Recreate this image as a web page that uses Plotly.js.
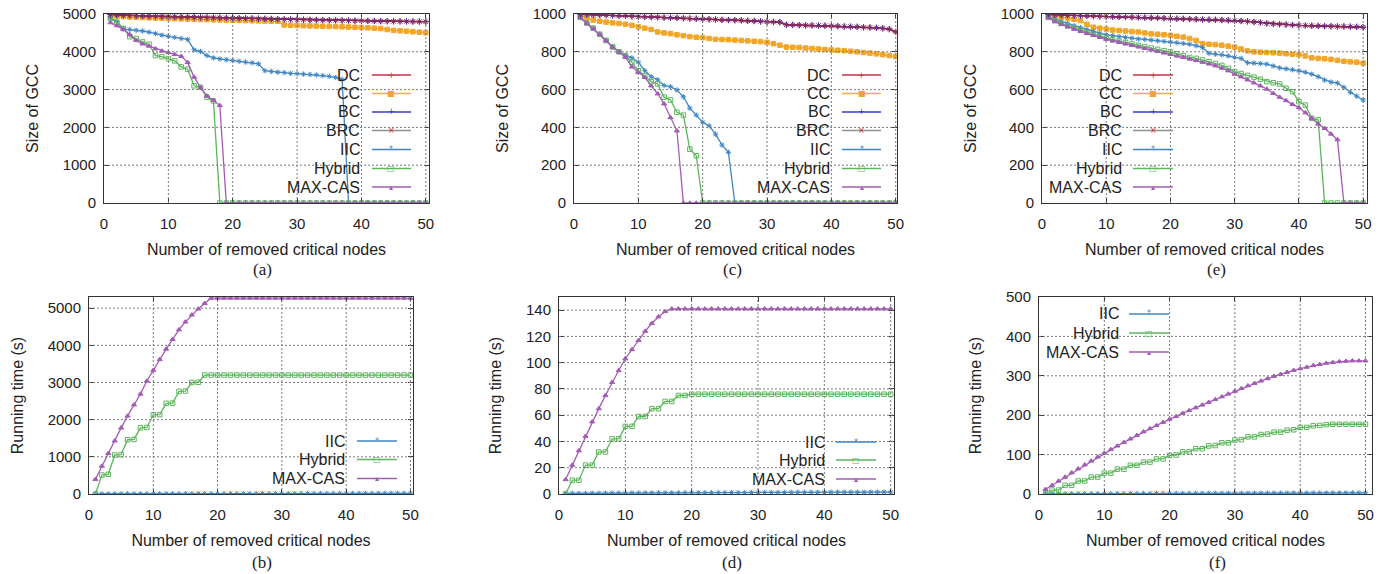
<!DOCTYPE html>
<html><head><meta charset="utf-8">
<script src="https://cdn.plot.ly/plotly-3.0.1.min.js"></script>
<style>html,body{margin:0;padding:0;background:#fff}#chart{width:1394px;height:574px}</style>
</head><body><div id="chart"></div>
<script>
// ---------------- DATA ----------------
const nodes = [1,2,3,4,5,6,7,8,9,10,11,12,13,14,15,16,17,18,19,20,21,22,23,24,25,26,27,28,29,30,31,32,33,34,35,36,37,38,39,40,41,42,43,44,45,46,47,48,49,50];

// (a) Size of GCC
const a_DC  = [4988,4978,4970,4963,4957,4951,4946,4941,4937,4933,4929,4925,4921,4917,4913,4909,4905,4901,4897,4893,4889,4885,4881,4877,4872,4868,4864,4860,4856,4852,4848,4845,4842,4839,4836,4833,4830,4827,4824,4821,4818,4815,4812,4810,4808,4806,4804,4802,4800,4798];
const a_CC  = [4950,4940,4930,4920,4912,4905,4898,4892,4886,4880,4875,4870,4865,4860,4855,4850,4846,4842,4838,4834,4830,4826,4822,4818,4814,4810,4806,4710,4700,4695,4690,4685,4680,4675,4670,4665,4660,4655,4650,4645,4635,4625,4615,4590,4565,4555,4545,4530,4520,4505];
const a_BC  = [4988,4978,4970,4963,4957,4951,4946,4941,4937,4933,4929,4925,4921,4917,4913,4909,4905,4901,4897,4893,4889,4885,4881,4877,4872,4868,4864,4860,4856,4852,4848,4845,4842,4839,4836,4833,4830,4827,4824,4821,4818,4815,4812,4810,4808,4806,4804,4802,4800,4798];
const a_BRC = [4985,4975,4968,4962,4956,4950,4945,4940,4936,4932,4928,4924,4920,4915,4911,4907,4903,4899,4895,4891,4887,4883,4879,4875,4870,4866,4862,4858,4854,4850,4846,4843,4840,4837,4834,4831,4828,4825,4822,4819,4816,4813,4810,4808,4806,4804,4802,4800,4798,4796];
const a_IIC = [4890,4800,4600,4590,4570,4550,4520,4480,4440,4410,4380,4350,4330,4050,4010,3900,3840,3810,3790,3770,3750,3730,3710,3680,3500,3480,3460,3450,3430,3420,3410,3400,3390,3370,3350,3320,3270,0,0,0,0,0,0,0,0,0,0,0,0,0];
const a_Hybrid = [4880,4780,4620,4400,4350,4260,4200,3900,3870,3820,3760,3600,3540,3100,3060,2800,2700,0,0,0,0,0,0,0,0,0,0,0,0,0,0,0,0,0,0,0,0,0,0,0,0,0,0,0,0,0,0,0,0,0];
const a_MAXCAS = [4770,4690,4600,4460,4300,4210,4150,4080,4020,3980,3930,3880,3720,3330,3060,2830,2720,2580,0,0,0,0,0,0,0,0,0,0,0,0,0,0,0,0,0,0,0,0,0,0,0,0,0,0,0,0,0,0,0,0];

// (c) Size of GCC
const c_DC  = [998,997,996,995,994,993,991,990,988,986,985,984,983,981,980,979,978,976,975,973,972,971,969,968,967,966,964,963,961,959,958,957,943,942,941,940,940,939,938,937,936,934,933,932,930,929,927,924,920,905];
const c_CC  = [990,978,968,962,957,953,950,946,940,932,925,918,905,900,896,890,885,880,877,875,870,866,865,864,862,860,858,856,854,850,843,835,825,824,823,820,817,815,812,810,808,806,803,800,796,793,789,785,780,775];
const c_BC  = [998,997,996,995,994,993,991,990,988,986,985,984,983,981,980,979,978,976,975,973,972,971,969,968,967,966,964,963,961,959,958,957,943,942,941,940,940,939,938,937,936,934,933,932,930,929,927,924,920,905];
const c_BRC = [998,997,996,995,994,993,991,990,988,986,985,984,983,981,980,979,978,976,975,973,972,971,969,968,967,966,964,963,961,959,958,957,943,942,941,940,940,939,938,937,936,934,933,932,930,929,927,924,920,905];
const c_IIC = [982,952,925,893,860,826,800,782,768,745,700,668,652,622,615,598,562,502,465,427,408,364,307,268,0,0,0,0,0,0,0,0,0,0,0,0,0,0,0,0,0,0,0,0,0,0,0,0,0,0];
const c_Hybrid = [982,952,925,893,860,826,800,778,745,700,672,642,630,560,545,480,465,285,250,0,0,0,0,0,0,0,0,0,0,0,0,0,0,0,0,0,0,0,0,0,0,0,0,0,0,0,0,0,0,0];
const c_MAXCAS = [980,950,922,892,858,824,798,772,720,690,665,620,578,525,452,382,0,0,0,0,0,0,0,0,0,0,0,0,0,0,0,0,0,0,0,0,0,0,0,0,0,0,0,0,0,0,0,0,0,0];

// (e) Size of GCC
const e_DC  = [998,996,994,993,992,991,990,989,988,987,986,985,984,983,982,981,980,979,978,976,975,974,973,972,971,970,969,968,967,965,963,961,958,955,950,948,946,944,942,940,939,938,937,936,935,934,934,933,932,930];
const e_CC  = [995,990,983,977,972,965,945,930,925,920,915,913,910,907,905,900,895,893,890,887,882,878,870,860,843,840,838,835,830,825,815,805,800,798,796,795,793,790,787,785,778,768,765,763,760,755,750,747,745,740];
const e_BC  = [998,996,994,993,992,991,990,989,988,987,986,985,984,983,982,981,980,979,978,976,975,974,973,972,971,970,969,968,967,965,963,961,958,955,950,948,946,944,942,940,939,938,937,936,935,934,934,933,932,930];
const e_BRC = [998,996,994,993,992,991,990,989,988,987,986,985,984,983,982,981,980,979,978,976,975,974,973,972,971,970,969,968,967,965,963,961,958,955,950,948,946,944,942,940,939,938,937,936,935,934,934,933,932,930];
const e_IIC = [985,972,960,950,938,928,918,908,898,890,885,880,876,872,868,866,862,858,855,852,848,844,840,832,822,792,788,784,778,771,765,742,740,738,735,725,715,710,705,700,692,682,668,650,640,635,612,585,565,545];
const e_Hybrid = [982,965,950,938,927,915,903,893,882,872,864,856,849,841,834,827,820,813,806,799,790,780,770,765,757,748,738,728,712,695,685,675,666,655,642,636,630,607,589,536,518,448,440,0,0,0,0,0,0,0];
const e_MAXCAS = [980,960,945,932,920,908,897,887,877,867,858,850,842,834,826,818,810,802,794,786,778,770,762,754,745,736,726,714,700,682,668,652,636,620,603,580,560,542,522,505,478,448,418,395,365,335,0,0,0,0];

// (b) Running time (s)
const b_IIC = [3,3,4,4,4,5,5,5,6,6,6,7,7,7,8,8,8,9,9,9,10,10,10,11,11,11,12,12,12,13,13,13,14,14,14,15,15,15,16,16,16,17,17,17,18,18,18,19,19,19];
const b_Hybrid = [0,510,530,1050,1060,1460,1470,1780,1790,2130,2135,2440,2445,2760,2770,3000,3005,3200,3200,3200,3200,3200,3200,3200,3200,3200,3200,3200,3200,3200,3200,3200,3200,3200,3200,3200,3200,3200,3200,3200,3200,3200,3200,3200,3200,3200,3200,3200,3200,3200];
const b_MAXCAS = [395,750,1095,1430,1780,2100,2400,2690,3040,3330,3620,3900,4160,4420,4630,4820,4980,5130,5270,5270,5270,5270,5270,5270,5270,5270,5270,5270,5270,5270,5270,5270,5270,5270,5270,5270,5270,5270,5270,5270,5270,5270,5270,5270,5270,5270,5270,5270,5270,5270];

// (d) Running time (s)
const d_IIC = [0.4,0.5,0.5,0.5,0.6,0.6,0.6,0.7,0.7,0.7,0.8,0.8,0.8,0.8,0.9,0.9,0.9,0.9,1.0,1.0,1.0,1.0,1.0,1.1,1.1,1.1,1.1,1.1,1.2,1.2,1.2,1.2,1.2,1.2,1.3,1.3,1.3,1.3,1.3,1.3,1.4,1.4,1.4,1.4,1.4,1.4,1.5,1.5,1.5,1.5];
const d_Hybrid = [0,10.5,10.5,22,22,32,32,42,42,51.5,51.5,59,59,65,65,70.5,70.5,75,75,76,76,76,76,76,76,76,76,76,76,76,76,76,76,76,76,76,76,76,76,76,76,76,76,76,76,76,76,76,76,76];
const d_MAXCAS = [11,22,33,44,55,65,75,85,94,103,110,117,124,130,135,139,141,141,141,141,141,141,141,141,141,141,141,141,141,141,141,141,141,141,141,141,141,141,141,141,141,141,141,141,141,141,141,141,141,141];

// (f) Running time (s)
const f_IIC = [0.5,0.6,0.6,0.7,0.7,0.8,0.8,0.9,0.9,1.0,1.0,1.1,1.1,1.2,1.2,1.3,1.3,1.4,1.4,1.5,1.5,1.6,1.6,1.7,1.7,1.8,1.8,1.9,1.9,2.0,2.0,2.1,2.1,2.2,2.2,2.3,2.3,2.4,2.4,2.5,2.5,2.6,2.6,2.7,2.7,2.8,2.8,2.9,2.9,3.0];
const f_Hybrid = [0,10,10,22,22,33,33,43,43,53,53,63,63,73,73,81,81,89,89,98,99,107,107,115,115,122,123,130,130,137,138,145,145,151,152,157,157,162,163,169,169,173,174,176,177,177,177,177,177,177];
const f_MAXCAS = [12,22,33,43,54,64,74,84,94,104,113,122,131,140,149,158,166,174,182,190,197,205,212,219,226,233,240,247,254,261,268,275,281,287,293,299,304,309,314,318,322,326,329,332,334,336,337,338,338,338];

const legendNames = ["DC","CC","BC","BRC","IIC","Hybrid","MAX-CAS"];
const timeLegendNames = ["IIC","Hybrid","MAX-CAS"];
const xTitle = "Number of removed critical nodes";
const gccTitle = "Size of GCC";
const timeTitle = "Running time (s)";
const panelLabels = ["(a)","(c)","(e)","(b)","(d)","(f)"];

// ---------------- STYLE ----------------
const W = 1394, H = 574;
const sty = {
  "DC":      {c:'#c8304a', m:'cross-thin-open', lc:'#c8304a', g:'+',  gc:'#c8304a'},
  "CC":      {c:'#f2a629', m:'square',          lc:'#f2b230', g:'■', gc:'#f2a629'},
  "BC":      {c:'#3838b8', m:'cross-thin-open', lc:'#3a3ac8', g:'+',  gc:'#3a3ac8'},
  "BRC":     {c:'#8e2552', m:'x-thin-open',     lc:'#909090', g:'×', gc:'#d02a2a'},
  "IIC":     {c:'#3f86c4', m:'asterisk-open',   lc:'#3f86c4', g:'*',  gc:'#3f86c4'},
  "Hybrid":  {c:'#5cb65c', m:'square-open',     lc:'#5cb65c', g:'□', gc:'#5cb65c'},
  "MAX-CAS": {c:'#a35cb5', m:'triangle-up',     lc:'#a35cb5', g:'▴', gc:'#a35cb5'}
};
const P = [
  {l:104,r:429,t:14,b:203, xr:[0,50.5], yr:[0,5000], dy:1000, yt:gccTitle},
  {l:574,r:897,t:14,b:203, xr:[0,50.2], yr:[0,1000], dy:200,  yt:gccTitle},
  {l:1042,r:1367,t:14,b:203, xr:[0,50.6], yr:[0,1000], dy:200, yt:gccTitle},
  {l:89,r:413,t:297,b:494, xr:[0,50.4], yr:[0,5300], dy:1000, yt:timeTitle},
  {l:559,r:894,t:297,b:494, xr:[0,50.5], yr:[0,150], dy:20,   yt:timeTitle},
  {l:1039,r:1372,t:297,b:494, xr:[0,51.0], yr:[0,500], dy:100, yt:timeTitle}
];
const series = [
  {"DC":a_DC,"CC":a_CC,"BC":a_BC,"BRC":a_BRC,"IIC":a_IIC,"Hybrid":a_Hybrid,"MAX-CAS":a_MAXCAS},
  {"DC":c_DC,"CC":c_CC,"BC":c_BC,"BRC":c_BRC,"IIC":c_IIC,"Hybrid":c_Hybrid,"MAX-CAS":c_MAXCAS},
  {"DC":e_DC,"CC":e_CC,"BC":e_BC,"BRC":e_BRC,"IIC":e_IIC,"Hybrid":e_Hybrid,"MAX-CAS":e_MAXCAS},
  {"IIC":b_IIC,"Hybrid":b_Hybrid,"MAX-CAS":b_MAXCAS},
  {"IIC":d_IIC,"Hybrid":d_Hybrid,"MAX-CAS":d_MAXCAS},
  {"IIC":f_IIC,"Hybrid":f_Hybrid,"MAX-CAS":f_MAXCAS}
];
const drawOrder = ["CC","IIC","Hybrid","MAX-CAS","DC","BC","BRC"];
const LG = [
  {tr:362, s0:372, s1:411, rows:[75,93.5,112,130.5,149.5,168.5,187], names:legendNames},
  {tr:832, s0:842, s1:881, rows:[75,93.5,112,130.5,149.5,168.5,187], names:legendNames},
  {tr:1124, s0:1133, s1:1173, rows:[75,93.5,112,130.5,149.5,168.5,187], names:legendNames},
  {tr:347, s0:357, s1:397, rows:[441,459.5,478.5], names:timeLegendNames},
  {tr:827, s0:836, s1:876, rows:[442,460,479], names:timeLegendNames},
  {tr:1121, s0:1129, s1:1169, rows:[314,333,352], names:timeLegendNames}
];
const labelPos = [[262,269],[732,269],[1216,269],[262,562],[732,562],[1217,562]];

const font = 'Liberation Sans, Arial, Helvetica, sans-serif';
const fx = px => px / W, fy = py => 1 - py / H;

const traces = [], shapes = [], annotations = [];
const layout = {
  width: W, height: H, margin:{l:0,r:0,t:0,b:0}, showlegend:false,
  paper_bgcolor:'rgba(255,255,255,0)', plot_bgcolor:'rgba(255,255,255,0)',
  font:{family:font, color:'#222'}
};
const gridLine = {color:'#7a7a7a', width:1, dash:'2px,2px'};

P.forEach((p, i) => {
  const n = i + 1, sfx = n === 1 ? '' : String(n);
  const xa = 'x' + sfx, ya = 'y' + sfx;
  const axBase = {
    showline:true, mirror:'ticks', linecolor:'#333', linewidth:1,
    ticks:'inside', ticklen:5, tickcolor:'#333', tickwidth:1,
    showgrid:false, zeroline:false, automargin:false,
    tickfont:{family:font, size:15, color:'#222'}
  };
  layout['xaxis' + sfx] = Object.assign({}, axBase, {
    domain:[fx(p.l), fx(p.r)], range:p.xr, anchor:ya, tickmode:'linear', tick0:0, dtick:10,
    ticklabelstandoff:7,
    title:{text:xTitle, font:{family:font, size:16, color:'#222'}, standoff:12}
  });
  layout['yaxis' + sfx] = Object.assign({}, axBase, {
    domain:[fy(p.b), fy(p.t)], range:p.yr, anchor:xa, tickmode:'linear', tick0:0, dtick:p.dy,
    ticklabelstandoff:4,
    title:{text:p.yt, font:{family:font, size:16, color:'#222'}, standoff:20}
  });
  // dotted grid at the axis tick values
  for (let v = 10; v < p.xr[1]; v += 10) {
    shapes.push({type:'line', layer:'above', xref:xa, yref:ya + ' domain', x0:v, x1:v, y0:0, y1:1, line:gridLine});
  }
  for (let v = p.dy; v < p.yr[1]; v += p.dy) {
    shapes.push({type:'line', layer:'above', xref:xa + ' domain', yref:ya, x0:0, x1:1, y0:v, y1:v, line:gridLine});
  }
  const S = series[i];
  drawOrder.forEach(name => {
    if (!S[name]) return;
    const st = sty[name];
    traces.push({
      type:'scatter', mode:'lines+markers', x:nodes, y:S[name], name:name,
      xaxis:xa, yaxis:ya,
      line:{color:st.c, width:1.3},
      marker:{symbol:st.m, size:4.5, color:st.c, line:{color:st.c, width:1}}
    });
  });
  const L = LG[i];
  L.names.forEach((name, k) => {
    const st = sty[name], yy = L.rows[k];
    annotations.push({xref:'paper', yref:'paper', x:fx(L.tr), y:fy(yy), xanchor:'right', yanchor:'middle',
      text:name, showarrow:false, font:{family:font, size:16, color:'#222'}});
    shapes.push({type:'line', xref:'paper', yref:'paper', x0:fx(L.s0), x1:fx(L.s1), y0:fy(yy), y1:fy(yy),
      line:{color:st.lc, width:1.3}});
    annotations.push({xref:'paper', yref:'paper', x:fx((L.s0 + L.s1) / 2), y:fy(yy), xanchor:'center', yanchor:'middle',
      text:st.g, showarrow:false, font:{family:'DejaVu Sans', size:8, color:st.gc}});
  });
  annotations.push({xref:'paper', yref:'paper', x:fx(labelPos[i][0]), y:fy(labelPos[i][1]), xanchor:'center', yanchor:'middle',
    text:panelLabels[i], showarrow:false, font:{family:'Liberation Serif, Times New Roman, serif', size:17, color:'#222'}});
});
layout.shapes = shapes;
layout.annotations = annotations;

Plotly.newPlot('chart', traces, layout, {staticPlot:true, displayModeBar:false});
</script></body></html>
